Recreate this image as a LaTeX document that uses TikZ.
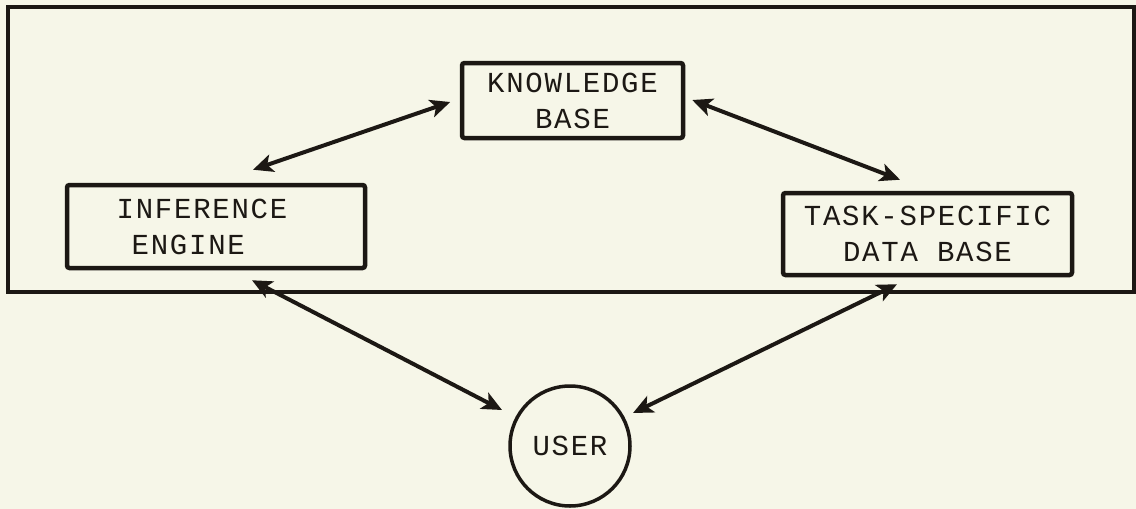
\documentclass[tikz,border=0pt]{standalone}
\usepackage{fontspec}
\newfontfamily\tw[LetterSpace=6]{Liberation Mono}
\usetikzlibrary{arrows.meta,calc}
\definecolor{ink}{RGB}{28,24,20}
\definecolor{paper}{RGB}{246,246,232}
\begin{document}
\begin{tikzpicture}[x=1pt,y=-1pt,
  txt/.style={font=\tw\fontsize{29}{36}\selectfont, text=ink},
  box/.style={draw=ink, line width=4.5pt, rounded corners=2.5pt, inner sep=0pt, txt},
  tip/.style={Stealth[length=20pt,width=18pt,inset=5pt]},
  link/.style={draw=ink, line width=4pt, {Stealth[length=20pt,width=18pt,inset=5pt]}-{Stealth[length=20pt,width=18pt,inset=5pt]}}]
\fill[paper] (0,0) rectangle (1136,509);
\useasboundingbox (0,0) rectangle (1136,509);
\draw[ink, line width=4.5pt] (8,7) rectangle (1134,292);
\node[box, align=center, minimum width=221pt, minimum height=75pt] (kb) at (572.5,100.5) {KNOWLEDGE\\BASE};
\node[box, align=left, minimum width=298pt, minimum height=83pt] (ie) at (216,226.5) {INFERENCE\hspace*{28pt}\\\hspace*{15pt}ENGINE};
\node[box, align=center, minimum width=289pt, minimum height=82pt] (tsdb) at (927.5,234) {TASK-SPECIFIC\\DATA BASE};
\node[draw=ink, circle, line width=3.5pt, minimum size=120pt, inner sep=0pt, txt] (user) at (570,446) {USER};
\draw[link] ($(kb.west)+(-9.5,1.5)$) -- ($(ie.north)+(37,-13)$);
\draw[link] ($(kb.east)+(7,-0.5)$) -- ($(tsdb.north)+(-27.5,-11)$);
\draw[link] ($(ie.south)+(36,10)$) -- ($(user.center)+(-68,-36)$);
\draw[link] ($(tsdb.south)+(-30.5,7)$) -- ($(user.center)+(63,-33)$);
\end{tikzpicture}
\end{document}
